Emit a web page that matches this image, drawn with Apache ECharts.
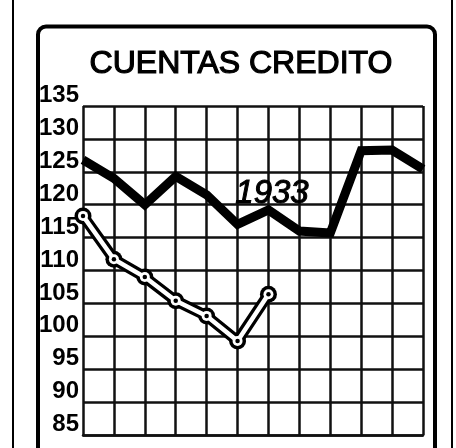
<!DOCTYPE html>
<html>
<head>
<meta charset="utf-8">
<script src="https://cdn.jsdelivr.net/npm/echarts@6/dist/echarts.min.js"></script>
<style>
html,body{margin:0;padding:0;background:#fff;}
#c{width:456px;height:448px;}
</style>
</head>
<body>
<div id="c"></div>
<script>
var months = ['Ene','Feb','Mar','Abr','May','Jun','Jul','Ago','Sep','Oct','Nov','Dic'];
var values1933 = [126.8, 124.0, 120.0, 124.3, 121.5, 117.0, 119.2, 116.0, 115.7, 128.2, 128.3, 125.4];
var values1934 = [118.3, 111.7, 109.0, 105.4, 103.1, 99.3, 106.4, null, null, null, null, null];
var yTicks = [85, 90, 95, 100, 105, 110, 115, 120, 125, 130, 135];
var titleText = 'CUENTAS CREDITO';
var seriesLabel = '1933';

var chart = echarts.init(document.getElementById('c'), null, {renderer: 'canvas'});
var option = {
  backgroundColor: '#fff',
  animation: false,
  grid: {left: 83, right: 33, top: 106, bottom: 13},
  xAxis: {
    type: 'category',
    data: months,
    boundaryGap: false,
    axisLine: {show: true, lineStyle: {color: '#111', width: 2.5}},
    axisTick: {show: false},
    axisLabel: {show: false},
    splitLine: {show: true, lineStyle: {color: '#111', width: 2.5}}
  },
  yAxis: {
    type: 'value',
    min: yTicks[0],
    max: yTicks[yTicks.length - 1],
    interval: 5,
    axisLine: {show: false},
    axisTick: {show: false},
    splitLine: {show: true, lineStyle: {color: '#111', width: 2.5}},
    axisLabel: {
      show: true,
      color: '#000',
      fontFamily: 'Liberation Sans',
      fontWeight: 'bold',
      fontSize: 24,
      margin: 4,
      verticalAlign: 'bottom',
      lineHeight: 21
    }
  },
  graphic: [
    {type: 'line', shape: {x1: 13, y1: 0, x2: 13, y2: 448}, style: {stroke: '#000', lineWidth: 2}},
    {type: 'line', shape: {x1: 452, y1: 0, x2: 452, y2: 448}, style: {stroke: '#000', lineWidth: 2}},
    {type: 'rect', shape: {x: 38, y: 26.5, width: 397, height: 460, r: 8}, style: {fill: null, stroke: '#000', lineWidth: 4}},
    {type: 'text', x: 241, y: 64, style: {text: titleText, fill: '#000', stroke: '#000', lineWidth: 1.2, font: '32px "Liberation Sans"', textAlign: 'center', textVerticalAlign: 'middle'}},
    {type: 'text', x: 272, y: 194, z: 10, style: {text: seriesLabel, fill: '#000', stroke: '#000', lineWidth: 1, font: 'italic 33px "Liberation Sans"', textAlign: 'center', textVerticalAlign: 'middle'}}
  ],
  series: [
    {
      name: '1933', type: 'line', data: values1933, showSymbol: false,
      lineStyle: {color: '#000', width: 9, join: 'miter', cap: 'butt'}, z: 3
    },
    {
      name: '1934o', type: 'line', data: values1934, symbol: 'circle', symbolSize: 17, showSymbol: true,
      itemStyle: {color: '#000', borderWidth: 0},
      lineStyle: {color: '#000', width: 11}, z: 4
    },
    {
      name: '1934i', type: 'line', data: values1934, symbol: 'circle', symbolSize: 10, showSymbol: true,
      itemStyle: {color: '#fff', borderWidth: 0},
      lineStyle: {color: '#fff', width: 4.5}, z: 5
    },
    {
      name: '1934d', type: 'line', data: values1934, symbol: 'circle', symbolSize: 4.5, showSymbol: true,
      itemStyle: {color: '#000', borderWidth: 0},
      lineStyle: {width: 0, opacity: 0}, z: 6
    }
  ]
};
chart.setOption(option);
</script>
</body>
</html>
